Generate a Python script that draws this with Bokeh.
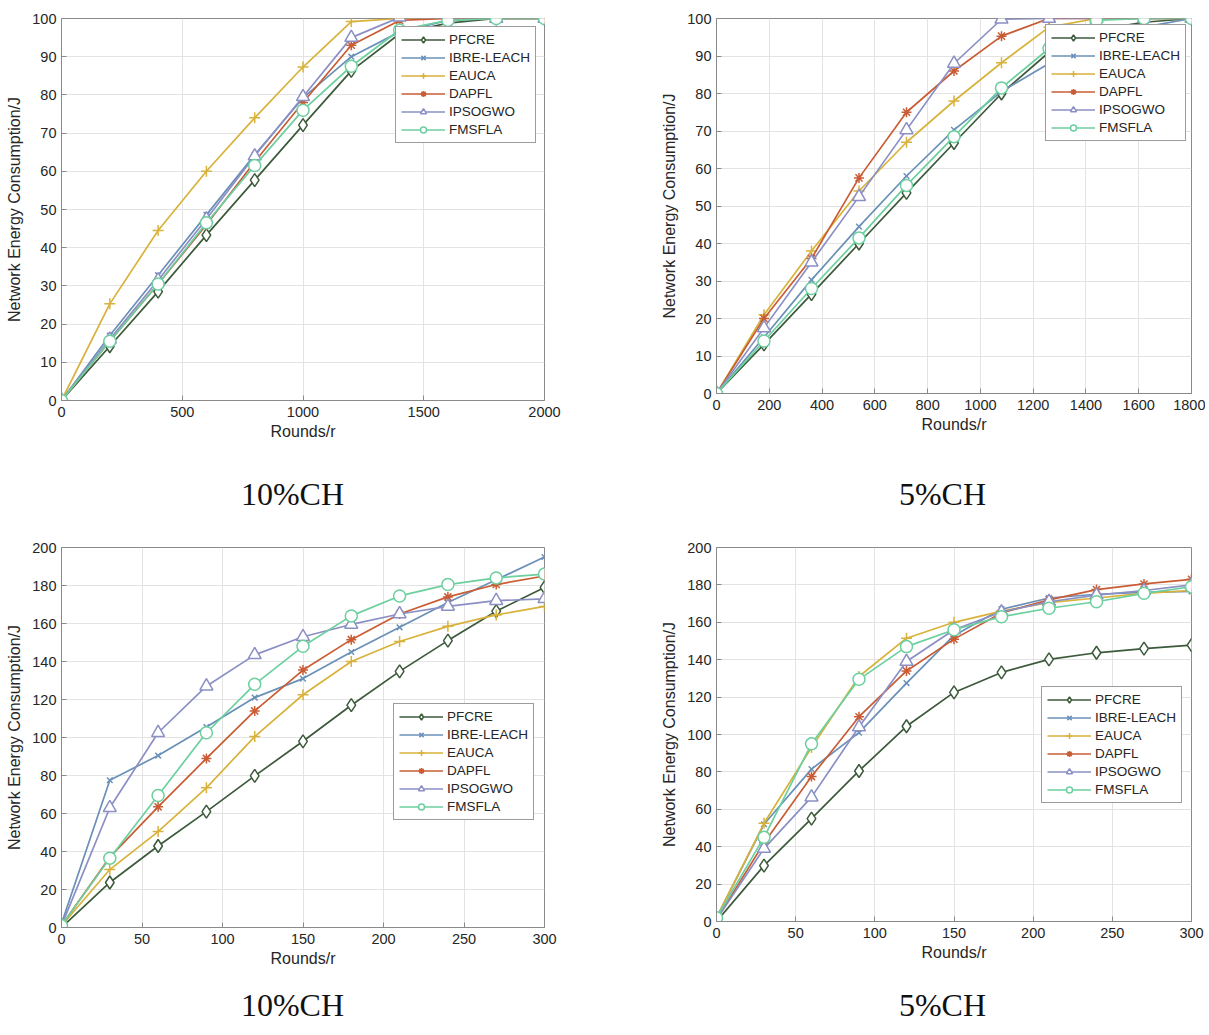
from bokeh.plotting import figure
from bokeh.layouts import column, row
from bokeh.models import Legend, LegendItem, FixedTicker, Range1d
from bokeh.core.properties import value
from bokeh.embed import file_html
from bokeh.resources import INLINE

series_names = ["PFCRE", "IBRE-LEACH", "EAUCA", "DAPFL", "IPSOGWO", "FMSFLA"]
colors = ["#3c5a3a", "#6a90b8", "#d8b23a", "#c95c34", "#8b8fc4", "#6ccf9e"]
markers = ["diamond", "x", "cross", "asterisk", "triangle", "circle"]
captions = ["10%CH", "5%CH", "10%CH", "5%CH"]

# Panel A: 10%CH, rounds 0..2000
rounds_a = [0, 200, 400, 600, 800, 1000, 1200, 1400, 1600, 1800, 2000]
pfcre_a = [0, 14.2, 28.5, 43.3, 57.7, 72.1, 86.3, 96.0, 98.8, 100, 100]
ibre_a = [0, 17.0, 32.8, 48.6, 64.3, 79.2, 90.0, 96.5, 99.5, 100, 100]
eauca_a = [0, 25.3, 44.5, 60.0, 74.0, 87.3, 99.2, 100, 100, 100, 100]
dapfl_a = [0, 15.5, 30.5, 46.0, 62.5, 78.0, 93.0, 99.5, 100, 100, 100]
ipso_a = [0, 16.0, 31.5, 47.5, 64.0, 79.5, 95.0, 100.3, 100, 100, 100]
fmsfla_a = [0, 15.5, 30.5, 46.5, 61.5, 76.0, 87.5, 97.0, 99.5, 100, 100]

# Panel B: 5%CH, rounds 0..1800
rounds_b = [0, 180, 360, 540, 720, 900, 1080, 1260, 1440, 1620, 1800]
pfcre_b = [0, 13.1, 26.5, 40.0, 53.5, 66.8, 80.0, 91.0, 97.0, 99.0, 100]
ibre_b = [0, 15.0, 30.3, 44.5, 58.0, 70.3, 80.5, 88.0, 96.0, 97.7, 100]
eauca_b = [0, 21.0, 38.0, 54.0, 67.0, 78.0, 88.2, 97.7, 100, 100, 100]
dapfl_b = [0, 20.0, 36.0, 57.5, 75.0, 86.0, 95.3, 100, 100, 100, 100]
ipso_b = [0, 17.5, 35.0, 52.5, 70.3, 88.0, 99.8, 100, 100, 100, 100]
fmsfla_b = [0, 14.0, 28.0, 41.5, 55.5, 68.5, 81.5, 92.0, 99.5, 100, 100]

# Panel C: 10%CH, rounds 0..300
rounds_c = [0, 30, 60, 90, 120, 150, 180, 210, 240, 270, 300]
pfcre_c = [0, 23.7, 42.9, 61.0, 79.8, 98.0, 117.0, 134.8, 151.0, 166.5, 179.0]
ibre_c = [2, 77.5, 90.5, 105.5, 121.0, 131.0, 145.0, 158.0, 171.0, 183.0, 195.0]
eauca_c = [1, 30.5, 50.5, 73.5, 100.5, 122.5, 140.0, 150.5, 158.5, 164.5, 169.0]
dapfl_c = [1, 37.0, 63.5, 89.0, 114.0, 135.5, 151.5, 165.0, 174.0, 180.5, 185.0]
ipso_c = [1, 63.0, 102.5, 127.0, 143.5, 153.0, 159.5, 165.0, 169.0, 172.0, 173.0]
fmsfla_c = [1, 36.5, 69.5, 102.5, 128.0, 148.0, 164.0, 174.5, 180.5, 184.0, 186.0]

# Panel D: 5%CH, rounds 0..300
rounds_d = [0, 30, 60, 90, 120, 150, 180, 210, 240, 270, 300]
pfcre_d = [0, 29.9, 55.0, 80.5, 104.4, 122.5, 133.2, 140.2, 143.7, 145.9, 147.8]
ibre_d = [2, 52.0, 81.5, 101.0, 127.5, 153.0, 167.0, 173.0, 175.0, 176.0, 176.5]
eauca_d = [2, 52.5, 93.0, 131.0, 151.5, 160.0, 166.0, 170.5, 173.0, 175.5, 177.0]
dapfl_d = [1, 42.0, 77.5, 109.5, 134.0, 151.0, 165.0, 172.0, 177.5, 180.5, 183.0]
ipso_d = [1, 39.0, 66.5, 104.0, 139.0, 156.0, 165.5, 171.0, 174.5, 177.0, 180.0]
fmsfla_d = [2, 45.0, 95.0, 129.5, 147.0, 156.0, 163.0, 167.5, 171.0, 175.5, 179.0]

xticks_a = [0, 500, 1000, 1500, 2000]
xticks_b = [0, 200, 400, 600, 800, 1000, 1200, 1400, 1600, 1800]
xticks_cd = [0, 50, 100, 150, 200, 250, 300]
yticks_100 = list(range(0, 101, 10))
yticks_200 = list(range(0, 201, 20))

FONT = "Liberation Sans"
TEXT = "#262626"
AXC = "#8a8a8a"
OPEN = ("diamond", "triangle", "circle")
MSIZE = {"diamond": 13, "x": 8, "cross": 11, "asterisk": 10, "triangle": 13, "circle": 12}


def style_axis(ax, ticks):
    ax.ticker = FixedTicker(ticks=ticks)
    ax.major_tick_in = 5
    ax.major_tick_out = 0
    ax.minor_tick_line_color = None
    ax.axis_line_color = AXC
    ax.major_tick_line_color = AXC
    ax.major_label_text_font = FONT
    ax.major_label_text_color = TEXT
    ax.major_label_text_font_size = "14.5px"
    ax.axis_label_text_font = FONT
    ax.axis_label_text_font_style = "normal"
    ax.axis_label_text_color = TEXT
    ax.axis_label_text_font_size = "16px"


def make_panel(xs, ys_list, xmax, ymax, xticks, yticks,
               borders, frame_w, frame_h, legend_loc):
    bl, br, bt, bb = borders
    p = figure(frame_width=frame_w, frame_height=frame_h,
               x_range=Range1d(0, xmax), y_range=Range1d(0, ymax),
               output_backend="svg", toolbar_location=None, title=None,
               min_border_left=bl, min_border_right=br,
               min_border_top=bt, min_border_bottom=bb,
               background_fill_color="white", border_fill_color="white")
    p.outline_line_color = AXC
    p.outline_line_width = 1
    xa = p.xaxis[0]
    ya = p.yaxis[0]
    style_axis(xa, xticks)
    style_axis(ya, yticks)
    xa.axis_label = "Rounds/r"
    xa.major_label_standoff = 6
    xa.axis_label_standoff = 3
    ya.axis_label = "Network Energy Consumption/J"
    ya.major_label_standoff = 5
    ya.axis_label_standoff = 6
    p.xgrid.ticker = FixedTicker(ticks=xticks)
    p.ygrid.ticker = FixedTicker(ticks=yticks)
    p.xgrid.grid_line_color = "#e3e3e3"
    p.ygrid.grid_line_color = "#e3e3e3"

    items = []
    for name, ys, col, mk in zip(series_names, ys_list, colors, markers):
        ln = p.line(xs, ys, line_color=col, line_width=1.7)
        sc = p.scatter(xs, ys, marker=mk, size=MSIZE[mk], line_color=col,
                       fill_color="white" if mk in OPEN else None,
                       line_width=1.5)
        items.append(LegendItem(label=name, renderers=[ln, sc]))
    leg = Legend(items=items, location=legend_loc,
                 label_text_font=FONT, label_text_font_size="13.5px",
                 label_text_color=TEXT, glyph_width=44, glyph_height=15,
                 label_height=15, spacing=3, padding=5, margin=0,
                 label_standoff=4, border_line_color="#3a3a3a",
                 border_line_width=1, background_fill_alpha=1)
    p.add_layout(leg, "center")
    return p


def make_caption(text, width, height, cx, cy):
    c = figure(width=width, height=height, x_range=Range1d(0, width),
               y_range=Range1d(0, height), output_backend="svg", title=None,
               toolbar_location=None, x_axis_type=None, y_axis_type=None,
               min_border=0, border_fill_color="white")
    c.outline_line_color = None
    c.grid.visible = False
    c.text(x=[cx], y=[cy], text=[text], text_align="center",
           text_baseline="middle", text_font=value("Liberation Serif"),
           text_font_size="32px", text_color="#111111")
    return c


pa = make_panel(rounds_a, [pfcre_a, ibre_a, eauca_a, dapfl_a, ipso_a, fmsfla_a],
                2000, 100, xticks_a, yticks_100,
                (61, 56, 14, 46), 483, 382, (334, 257))
pb = make_panel(rounds_b, [pfcre_b, ibre_b, eauca_b, dapfl_b, ipso_b, fmsfla_b],
                1800, 100, xticks_b, yticks_100,
                (116, 14, 18, 49), 475, 375, (329, 252))
pc = make_panel(rounds_c, [pfcre_c, ibre_c, eauca_c, dapfl_c, ipso_c, fmsfla_c],
                300, 200, xticks_cd, yticks_200,
                (61, 56, 22, 46), 483, 380, (332, 107))
pd = make_panel(rounds_d, [pfcre_d, ibre_d, eauca_d, dapfl_d, ipso_d, fmsfla_d],
                300, 200, xticks_cd, yticks_200,
                (116, 14, 25, 49), 475, 374, (325, 118))

ca = make_caption(captions[0], 600, 80, 292, 29)
cb = make_caption(captions[1], 605, 80, 342, 29)
cc = make_caption(captions[2], 600, 52, 292, 18)
cd = make_caption(captions[3], 605, 52, 342, 18)

layout = column(row(pa, pb, spacing=0), row(ca, cb, spacing=0),
                row(pc, pd, spacing=0), row(cc, cd, spacing=0), spacing=0)
open("out.html", "w").write(file_html(layout, INLINE))
